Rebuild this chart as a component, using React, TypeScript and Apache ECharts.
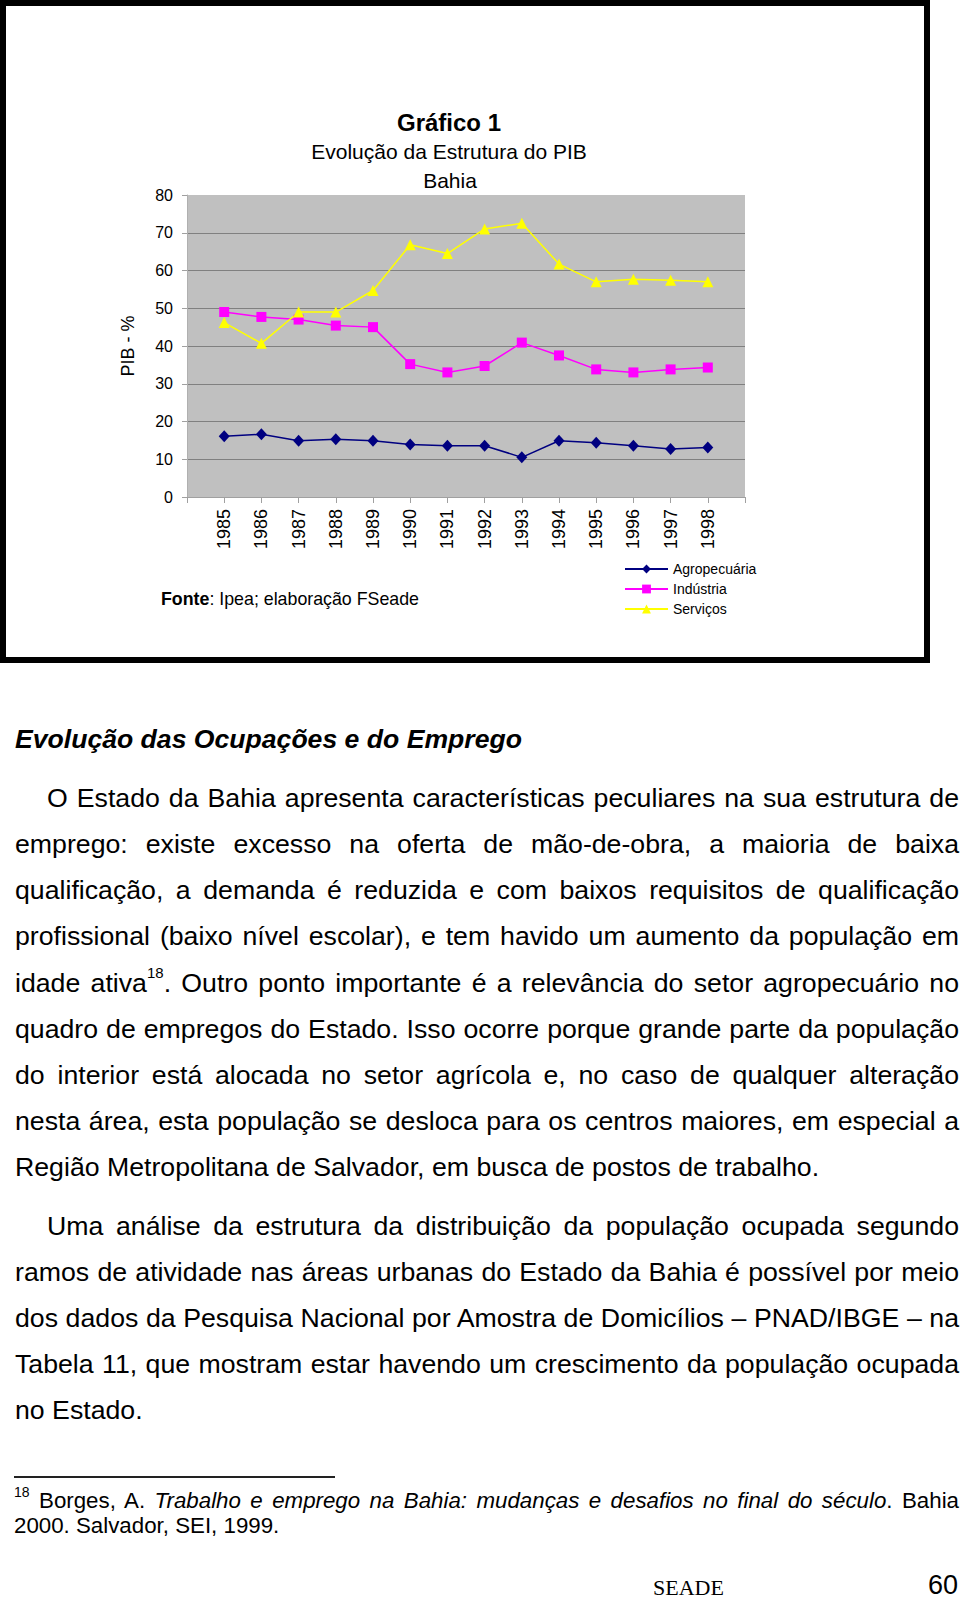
import React, { useEffect, useRef } from "react";
import * as echarts from "echarts";

const years = [1985, 1986, 1987, 1988, 1989, 1990, 1991, 1992, 1993, 1994, 1995, 1996, 1997, 1998];
const agropecuaria = [16.1, 16.6, 14.9, 15.3, 14.9, 13.9, 13.6, 13.6, 10.5, 14.9, 14.4, 13.6, 12.7, 13.1];
const industria = [49, 47.7, 47, 45.4, 45, 35.2, 33, 34.7, 40.9, 37.5, 33.8, 33, 33.8, 34.3];
const servicos = [46.2, 40.7, 49, 49, 54.7, 66.8, 64.5, 71, 72.5, 61.7, 57, 57.7, 57.4, 57];
const seriesNames = ["Agropecuária", "Indústria", "Serviços"];
const yMin = 0;
const yMax = 80;
const yStep = 10;
const xMin = 1984;
const xMax = 1999;

const FONT = 'Arial, "Liberation Sans", sans-serif';

function Chart() {
  const ref = useRef<HTMLDivElement>(null);
  useEffect(() => {
    if (!ref.current) return;
    const chart = echarts.init(ref.current, undefined, { renderer: "svg" });
    const mk = (vals: number[]) => years.map((y, i) => [y, vals[i]]);
    const gridColors = ["#a0a0a0", "#808080", "#808080", "#808080", "#808080", "#808080", "#808080", "#808080", "#c0c0c0"];
    chart.setOption({
      animation: false,
      textStyle: { fontFamily: FONT, color: "#000" },
      grid: {
        left: 187,
        top: 195,
        width: 558,
        height: 302,
        show: true,
        backgroundColor: "#C0C0C0",
        borderWidth: 0,
      },
      xAxis: {
        type: "value",
        min: xMin,
        max: xMax,
        interval: 1,
        axisLine: { show: true, lineStyle: { color: "#a0a0a0", width: 1 } },
        axisTick: { show: true, length: 6, lineStyle: { color: "#a0a0a0" } },
        splitLine: { show: false },
        axisLabel: {
          rotate: 90,
          margin: 12,
          fontSize: 18,
          color: "#000",
          fontFamily: FONT,
          showMinLabel: true,
          showMaxLabel: true,
          formatter: (v: number) => (years.indexOf(v) >= 0 ? String(v) : ""),
        },
      },
      yAxis: {
        type: "value",
        min: yMin,
        max: yMax,
        interval: yStep,
        name: "PIB - %",
        nameLocation: "middle",
        nameRotate: 90,
        nameGap: 50,
        nameTextStyle: { fontSize: 18, color: "#000", fontFamily: FONT },
        axisLine: { show: true, lineStyle: { color: "#b0b0b0", width: 1 } },
        axisTick: { show: true, length: 5, lineStyle: { color: "#a0a0a0" } },
        splitLine: { show: true, lineStyle: { color: gridColors, width: 1 } },
        axisLabel: { margin: 14, fontSize: 16, color: "#000", fontFamily: FONT },
      },
      legend: {
        orient: "vertical",
        left: 619,
        top: 557,
        itemWidth: 43,
        itemHeight: 11,
        itemGap: 6,
        textStyle: { fontSize: 14, color: "#000", fontFamily: FONT },
        data: seriesNames,
      },
      series: [
        {
          name: seriesNames[0],
          type: "line",
          data: mk(agropecuaria),
          symbol: "diamond",
          symbolSize: [11, 12],
          lineStyle: { color: "#000080", width: 1.5 },
          itemStyle: { color: "#000080" },
        },
        {
          name: seriesNames[1],
          type: "line",
          data: mk(industria),
          symbol: "rect",
          symbolSize: 10,
          lineStyle: { color: "#FF00FF", width: 1.5 },
          itemStyle: { color: "#FF00FF" },
        },
        {
          name: seriesNames[2],
          type: "line",
          data: mk(servicos),
          symbol: "triangle",
          symbolSize: 11,
          lineStyle: { color: "#FFFF00", width: 1.5 },
          itemStyle: { color: "#FFFF00" },
        },
      ],
      graphic: [
        {
          type: "rect",
          shape: { x: 3, y: 3, width: 924, height: 657 },
          style: { fill: "none", stroke: "#000", lineWidth: 6 },
          silent: true,
        },
        {
          type: "text",
          x: 449,
          y: 122,
          style: { text: "Gráfico 1", fontSize: 24, fontWeight: "bold", fontFamily: FONT, fill: "#000", align: "center", verticalAlign: "middle" },
        },
        {
          type: "text",
          x: 449,
          y: 151,
          style: { text: "Evolução da Estrutura do PIB", fontSize: 21, fontFamily: FONT, fill: "#000", align: "center", verticalAlign: "middle" },
        },
        {
          type: "text",
          x: 450,
          y: 180,
          style: { text: "Bahia", fontSize: 21, fontFamily: FONT, fill: "#000", align: "center", verticalAlign: "middle" },
        },
        {
          type: "text",
          x: 161,
          y: 599,
          style: {
            text: "{b|Fonte}: Ipea; elaboração FSeade",
            fontSize: 17.8,
            fontFamily: FONT,
            fill: "#000",
            verticalAlign: "middle",
            rich: { b: { fontWeight: "bold", fontSize: 17.8, fontFamily: FONT, fill: "#000" } },
          },
        },
      ],
    });
    return () => chart.dispose();
  }, []);
  return <div ref={ref} style={{ position: "absolute", left: 0, top: 0, width: 960, height: 680 }} />;
}

type LineProps = { cy: number; indent?: boolean; last?: boolean; size?: number; children: React.ReactNode; left?: number };

function Line({ cy, indent, last, size = 26.7, children, left }: LineProps) {
  const l = left !== undefined ? left : indent ? 47 : 15;
  return (
    <div
      style={{
        position: "absolute",
        left: l,
        width: 959 - l,
        top: cy - 15,
        height: 30,
        lineHeight: "30px",
        fontSize: size,
        textAlign: last ? "left" : "justify",
        textAlignLast: last ? "left" : "justify",
        whiteSpace: "normal",
      } as React.CSSProperties}
    >
      {children}
    </div>
  );
}

const p1 = [
  "O Estado da Bahia apresenta características peculiares na sua estrutura de",
  "emprego: existe excesso na oferta de mão-de-obra, a maioria de baixa",
  "qualificação, a demanda é reduzida e com baixos requisitos de qualificação",
  "profissional (baixo nível escolar), e tem havido um aumento da população em",
];
const p1b = [
  "quadro de empregos do Estado. Isso ocorre porque grande parte da população",
  "do interior está alocada no setor agrícola e, no caso de qualquer alteração",
  "nesta área, esta população se desloca para os centros maiores, em especial a",
  "Região Metropolitana de Salvador, em busca de postos de trabalho.",
];
const p2 = [
  "Uma análise da estrutura da distribuição da população ocupada segundo",
  "ramos de atividade nas áreas urbanas do Estado da Bahia é possível por meio",
  "dos dados da Pesquisa Nacional por Amostra de Domicílios – PNAD/IBGE – na",
  "Tabela 11, que mostram estar havendo um crescimento da população ocupada",
  "no Estado.",
];

export default function App() {
  const step = 46.06;
  const p1y = 798.3;
  const p2y = 1226.2;
  return (
    <div style={{ position: "absolute", left: 0, top: 0, width: 960, height: 1604, background: "#fff", fontFamily: FONT, color: "#000", overflow: "hidden" }}>
      <Chart />
      <div style={{ position: "absolute", left: 15, top: 739 - 15, height: 30, lineHeight: "30px", fontSize: 26.6, fontWeight: "bold", fontStyle: "italic", whiteSpace: "nowrap" }}>
        Evolução das Ocupações e do Emprego
      </div>
      {p1.map((t, i) => (
        <Line key={"a" + i} cy={p1y + i * step} indent={i === 0}>{t}</Line>
      ))}
      <Line cy={p1y + 4 * step}>
        idade ativa<sup style={{ fontSize: 15, lineHeight: 0, verticalAlign: "top", position: "relative", top: 5 }}>18</sup>. Outro ponto importante é a relevância do setor agropecuário no
      </Line>
      {p1b.map((t, i) => (
        <Line key={"b" + i} cy={p1y + (5 + i) * step} last={i === p1b.length - 1}>{t}</Line>
      ))}
      {p2.map((t, i) => (
        <Line key={"c" + i} cy={p2y + i * step} indent={i === 0} last={i === p2.length - 1}>{t}</Line>
      ))}
      <div style={{ position: "absolute", left: 14, top: 1476, width: 321, height: 1.5, background: "#222" }} />
      <Line cy={1500.5} size={22.3} left={14}>
        <sup style={{ fontSize: 14, lineHeight: 0, verticalAlign: "top", position: "relative", top: 6 }}>18</sup> Borges, A. <i>Trabalho e emprego na Bahia: mudanças e desafios no final do século</i>. Bahia
      </Line>
      <Line cy={1526} size={22.3} left={14} last>
        2000. Salvador, SEI, 1999.
      </Line>
      <div style={{ position: "absolute", left: 653, top: 1588 - 15, height: 30, lineHeight: "30px", fontSize: 22, fontFamily: '"Times New Roman", "Liberation Serif", serif', whiteSpace: "nowrap" }}>
        SEADE
      </div>
      <div style={{ position: "absolute", left: 900, width: 58, top: 1570, height: 30, lineHeight: "30px", fontSize: 27, textAlign: "right", whiteSpace: "nowrap" }}>
        60
      </div>
    </div>
  );
}
